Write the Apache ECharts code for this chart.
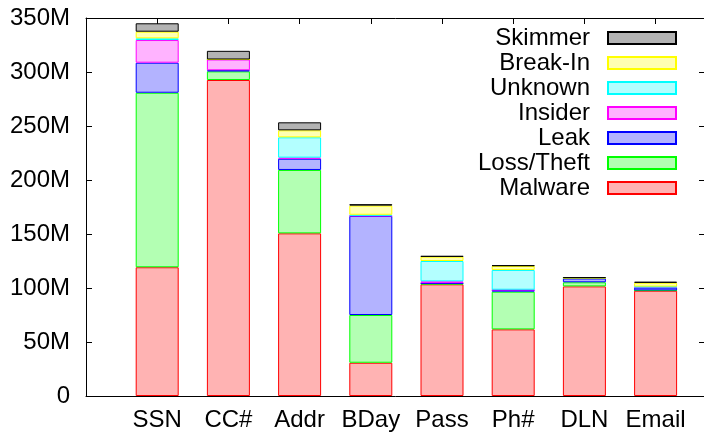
<!DOCTYPE html>
<html>
<head>
<meta charset="utf-8">
<script src="https://cdn.jsdelivr.net/npm/echarts@6/dist/echarts.min.js"></script>
<style>html,body{margin:0;padding:0;background:#fff}#c{width:704px;height:433px}</style>
</head>
<body>
<div id="c"></div>
<script>
// Categories and series values (millions of records)
var categories = ['SSN', 'CC#', 'Addr', 'BDay', 'Pass', 'Ph#', 'DLN', 'Email'];
var malware   = [119.2, 292.6, 150.6, 30.8, 103.4, 61.7, 101.5, 97.5];
var lossTheft = [161.6,   8.0,  58.7, 44.2,   0.6, 34.9,   3.8,  0.3];
var leak      = [ 27.8,   1.0,  10.4, 91.7,   0.5,  1.5,   3.5,  2.5];
var insider   = [ 21.0,  10.0,   1.0,  0.3,   1.7,  0.3,   0.5,  0.5];
var unknown   = [  1.6,   0.0,  18.8,  0.8,  18.8, 18.3,   0.0,  0.5];
var breakIn   = [  6.1,   0.0,   6.5,  8.5,   4.0,  3.7,   0.0,  3.5];
var skimmer   = [  7.8,   8.0,   7.4,  1.3,   0.6,  0.6,   0.6,  1.0];
var yTicks = [0, 50, 100, 150, 200, 250, 300, 350];

var seriesDefs = [
  {name: 'Malware',    data: malware,   fill: '#ffb3b3', line: '#ff0000'},
  {name: 'Loss/Theft', data: lossTheft, fill: '#b3ffb3', line: '#00ff00'},
  {name: 'Leak',       data: leak,      fill: '#b3b3ff', line: '#0000ff'},
  {name: 'Insider',    data: insider,   fill: '#ffb3ff', line: '#ff00ff'},
  {name: 'Unknown',    data: unknown,   fill: '#b3ffff', line: '#00ffff'},
  {name: 'Break-In',   data: breakIn,   fill: '#ffffb3', line: '#ffff00'},
  {name: 'Skimmer',    data: skimmer,   fill: '#b3b3b3', line: '#000000'}
];

var FONT = 'Liberation Sans, Arial, sans-serif';
// padded category list: empty slot at the left border and one beyond the right edge
var axisCats = [''].concat(categories).concat(['']);

var chart = echarts.init(document.getElementById('c'), null, {renderer: 'canvas'});
chart.setOption({
  animation: false,
  backgroundColor: '#fff',
  grid: [
    {left: 86, top: 18, width: 640.8, bottom: 37, containLabel: false, outerBoundsMode: 'none'},
    {left: 86, top: 18, right: -1, bottom: 37, containLabel: false, outerBoundsMode: 'none'}
  ],
  legend: {
    orient: 'vertical',
    right: 22, top: 20.5,
    align: 'right',
    icon: 'rect',
    itemWidth: 68, itemHeight: 12, itemGap: 0,
    data: ['Skimmer', 'Break-In', 'Unknown', 'Insider', 'Leak', 'Loss/Theft', 'Malware'],
    textStyle: {fontFamily: FONT, fontSize: 24, color: '#000', lineHeight: 25, padding: [0, 13, 0, 0]},
    selectedMode: false
  },
  xAxis: [
    {
      type: 'category', gridIndex: 0, data: axisCats, boundaryGap: false, position: 'bottom',
      axisLine: {show: true, onZero: false, lineStyle: {color: '#000', width: 1}},
      axisTick: {show: true, inside: true, length: 6, interval: 0, lineStyle: {color: '#000'}},
      splitLine: {show: false},
      axisLabel: {show: true, interval: 0, margin: 12, fontFamily: FONT, fontSize: 24, color: '#000'}
    },
    {
      type: 'category', gridIndex: 0, data: axisCats, boundaryGap: false, position: 'top',
      axisLine: {show: true, onZero: false, lineStyle: {color: '#000', width: 1}},
      axisTick: {show: true, inside: true, length: 6, interval: 0, lineStyle: {color: '#000'}},
      splitLine: {show: false},
      axisLabel: {show: false}
    },
    {
      type: 'value', gridIndex: 1, min: 0, max: 1, show: false
    }
  ],
  yAxis: [
    {
      type: 'value', gridIndex: 0, min: 0, max: 350, interval: 50, position: 'left',
      axisLine: {show: true, onZero: false, lineStyle: {color: '#000', width: 1}},
      axisTick: {show: true, inside: true, length: 6, lineStyle: {color: '#000'}},
      splitLine: {show: false},
      axisLabel: {
        margin: 16, fontFamily: FONT, fontSize: 24, color: '#000',
        formatter: function (v) { return yTicks.indexOf(v) >= 0 ? (v === 0 ? '0' : v + 'M') : ''; }
      }
    },
    {
      type: 'value', gridIndex: 1, min: 0, max: 350, interval: 50, position: 'right',
      axisLine: {show: true, onZero: false, lineStyle: {color: '#000', width: 1}},
      axisTick: {show: true, inside: true, length: 6, lineStyle: {color: '#000'}},
      splitLine: {show: false},
      axisLabel: {show: false}
    }
  ],
  series: seriesDefs.map(function (s) {
    return {
      name: s.name,
      type: 'bar',
      stack: 'total',
      xAxisIndex: 0, yAxisIndex: 0,
      barWidth: 43,
      data: [null].concat(s.data).concat([null]),
      itemStyle: {color: s.fill, borderColor: s.line, borderWidth: 1},
      emphasis: {disabled: true}
    };
  })
});
</script>
</body>
</html>
